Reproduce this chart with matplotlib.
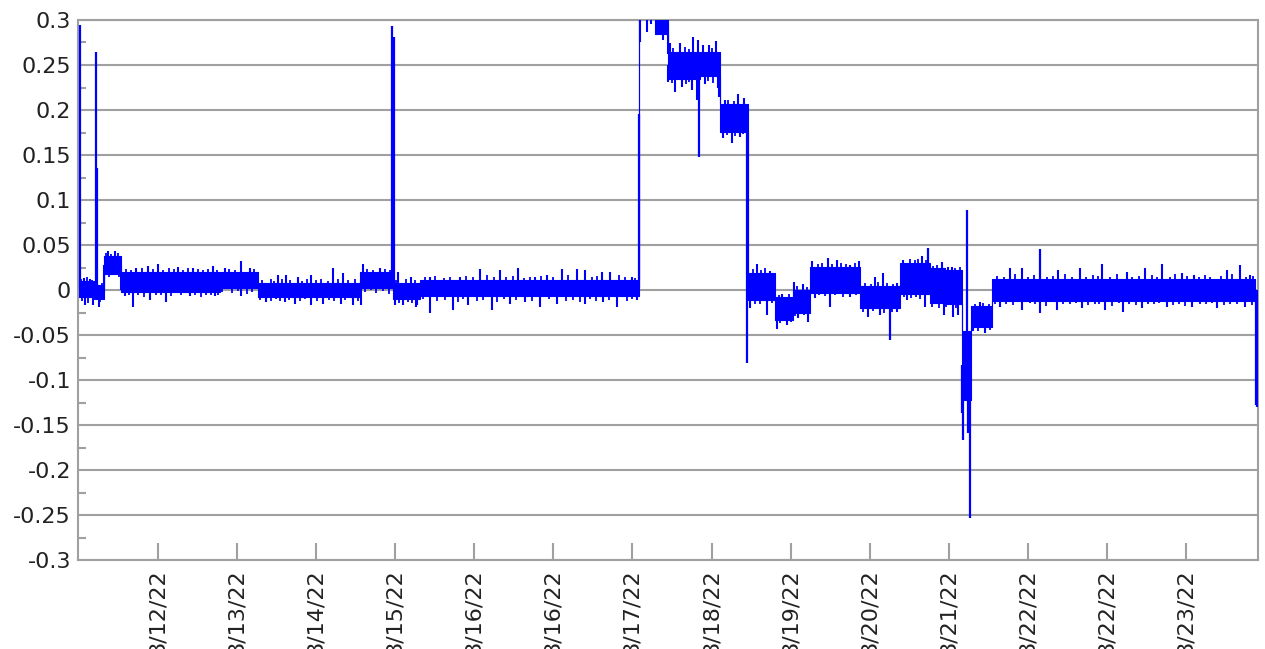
import numpy as np
import matplotlib
matplotlib.use("Agg")
import matplotlib.pyplot as plt
import matplotlib.dates as mdates
from matplotlib.ticker import FixedLocator, FuncFormatter, MultipleLocator
from datetime import datetime

start = datetime(2022, 8, 11, 20, 10)
end_h = 304.4

# dense band: each level starts at seg_h (hours from start) and runs to the next one
seg_h = [0.2, 4.4, 6.7, 11.1, 36.6, 46.4, 72.8, 81.3, 88.2, 144.8, 148.9, 152.2,
         160.5, 165.6, 172.9, 179.8, 184.4, 188.9, 201.8, 212.1, 219.8, 223.7,
         228.1, 230.4, 235.8, 303.7]
seg_lo = [-0.008, -0.010, 0.018, -0.002, 0.002, -0.008, 0.002, -0.010, -0.007, 0.302,
          0.284, 0.235, 0.238, 0.176, -0.011, -0.033, -0.025, -0.003, -0.020, -0.004,
          -0.014, -0.015, -0.122, -0.041, -0.012, -0.012]
seg_hi = [0.010, 0.006, 0.038, 0.020, 0.020, 0.008, 0.020, 0.008, 0.011, 0.320,
          0.310, 0.265, 0.265, 0.207, 0.019, -0.008, 0.000, 0.026, 0.004, 0.030,
          0.024, 0.022, -0.045, -0.018, 0.012, 0.012]

# large excursions
peak_h = [0.6, 4.6, 5.0, 81.0, 81.5, 144.7, 160.3, 172.7, 209.5, 219.3, 228.1,
          228.4, 229.4, 229.7, 230.0, 248.2, 303.9, 304.2]
peak_v = [0.294, 0.265, 0.136, 0.293, 0.281, 0.196, 0.148, -0.081, -0.055, 0.047, -0.137,
          -0.167, 0.089, -0.159, -0.253, 0.046, -0.128, -0.130]

# short noise spikes around the band
fringe_h = [1.5, 3.0, 7.7, 9.5, 15.0, 18.1, 20.6, 25.8, 29.7, 34.8, 37.8, 42.1, 44.3,
            51.6, 53.7, 56.7, 60.2, 65.8, 68.4, 73.5, 77.8, 82.5, 86.0,
            1.7, 3.9, 5.3, 6.8, 11.0, 12.0, 14.2, 18.5, 22.8, 28.8, 35.3, 42.1, 48.6,
            53.3, 55.9, 60.2, 63.2, 67.9, 70.9, 73.1, 81.7, 83.8, 87.3,
            90.8, 98.6, 103.7, 108.9, 113.6, 117.9, 120.9, 124.8, 128.7, 130.8, 135.1,
            137.3, 142.8,
            87.4, 90.8, 96.8, 100.7, 106.7, 111.5, 115.3, 119.2, 123.5, 130.8, 135.5,
            139.0, 144.1,
            144.9, 146.7, 147.7, 149.3, 150.1, 151.0, 151.8, 152.1, 152.7, 155.3, 158.7,
            160.0, 152.3, 154.0, 155.7, 158.3, 159.6, 161.3, 162.8, 164.7, 161.7, 165.2,
            165.4, 166.9, 170.3, 171.8, 166.5, 168.6, 170.8,
            175.1, 178.5, 173.4, 177.7, 180.3, 182.8, 181.5, 184.6, 187.1, 185.8, 188.4,
            189.3, 193.6, 195.7, 199.2, 201.6, 190.1, 194.0, 199.2, 205.6, 207.6, 211.2,
            203.9, 206.9, 211.2, 212.9, 217.7, 213.8, 218.5, 222.8, 225.4, 223.3, 225.8,
            224.5, 227.0, 232.7, 234.0, 231.0,
            240.5, 243.5, 252.9, 258.5, 264.1, 270.6, 275.3, 279.6, 284.7, 287.8, 296.3,
            299.8, 302.4,
            237.9, 243.5, 248.2, 252.5, 258.9, 265.0, 269.7, 274.4, 280.9, 287.3, 293.8,
            301.1]
fringe_v = [0.013, 0.012, 0.043, 0.043, 0.025, 0.027, 0.029, 0.026, 0.025, 0.027, 0.024,
            0.032, 0.025, 0.017, 0.017, 0.015, 0.017, 0.025, 0.019, 0.029, 0.024, 0.020,
            0.014,
            -0.017, -0.017, -0.019, -0.002, 0.000, -0.007, -0.019, -0.011, -0.013, -0.007,
            -0.007, -0.007, -0.013, -0.013, -0.015, -0.017, -0.015, -0.015, -0.017, -0.017,
            -0.017, -0.017, -0.019,
            0.015, 0.015, 0.023, 0.022, 0.025, 0.015, 0.017, 0.023, 0.023, 0.022, 0.020,
            0.020, 0.014,
            -0.017, -0.025, -0.022, -0.017, -0.022, -0.015, -0.013, -0.019, -0.015, -0.015,
            -0.013, -0.019, -0.011,
            0.276, 0.287, 0.296, 0.289, 0.283, 0.278, 0.287, 0.262, 0.274, 0.274, 0.281,
            0.278, 0.231, 0.220, 0.226, 0.222, 0.211, 0.272, 0.272, 0.277, 0.229, 0.224,
            0.215, 0.211, 0.218, 0.213, 0.169, 0.163, 0.170,
            0.0285, 0.021, -0.020, -0.028, -0.043, -0.039, -0.004, 0.0093, 0.0063, -0.0315,
            -0.036, 0.032, 0.036, 0.033, 0.028, 0.032, -0.009, -0.0185, -0.0074, 0.0148,
            0.0185, 0.0074, -0.030, -0.028, -0.024, 0.033, 0.038, -0.011, -0.0185, 0.031,
            0.026, -0.028, -0.030, 0.026, -0.028, -0.013, -0.048, -0.046,
            0.024, 0.025, 0.022, 0.024, 0.029, 0.020, 0.024, 0.029, 0.019, 0.017, 0.022,
            0.028, 0.017,
            -0.0185, -0.022, -0.026, -0.022, -0.020, -0.022, -0.024, -0.020, -0.0185,
            -0.0185, -0.020, -0.0185]

# small ripples just past the band edges
ripple_h = [0.9, 2.3, 3.6, 1.0, 2.6, 4.1, 5.8, 6.3, 7.2, 8.6, 10.3, 8.0, 10.6,
            12.5, 13.8, 16.5, 19.3, 21.9, 23.4, 24.7, 27.0, 28.3, 31.0, 32.2, 33.5, 35.9,
            13.2, 15.6, 17.1, 20.0, 21.4, 24.0, 26.6, 30.3, 31.7, 33.0, 34.2, 36.1,
            39.0, 40.5, 45.4, 37.2, 39.6, 41.2, 43.5, 45.0,
            47.5, 49.7, 50.5, 52.6, 54.8, 57.9, 59.1, 61.5, 62.6, 64.4, 67.0, 69.6, 71.5,
            47.0, 49.9, 51.2, 52.1, 54.5, 57.2, 58.6, 61.7, 64.8, 66.1, 69.0, 72.2,
            74.5, 76.0, 79.2, 80.4, 74.0, 75.5, 77.0, 78.8, 80.1,
            82.0, 84.6, 87.0, 82.9, 85.0, 86.2,
            89.5, 92.0, 94.3, 96.0, 100.0, 102.0, 105.5, 107.3, 110.5, 112.2, 115.0, 116.5,
            119.5, 122.6, 126.5, 132.6, 134.0, 139.5, 141.2, 143.8,
            89.0, 92.6, 94.8, 98.0, 99.3, 102.8, 104.5, 108.2, 110.0, 113.0, 117.0, 121.5,
            125.8, 127.6, 129.5, 132.0, 133.6, 137.0, 141.7, 143.0,
            153.5, 156.5, 157.6, 153.2, 156.8, 157.5, 163.6, 162.5, 163.9,
            167.8, 169.2, 167.5, 169.6, 171.5,
            174.0, 176.3, 177.3, 174.6, 176.0, 179.0, 180.8, 183.3, 181.2, 183.9,
            185.4, 188.0, 184.9, 187.4,
            190.8, 192.0, 194.6, 196.8, 198.0, 200.4, 191.2, 192.8, 195.2, 197.4, 200.8,
            203.0, 204.5, 206.3, 208.8, 210.3, 202.5, 205.0, 208.0, 209.9,
            214.5, 215.8, 216.6, 218.8, 213.0, 215.0, 216.3, 217.2,
            220.6, 221.7, 220.3, 222.0, 226.2, 227.5, 224.0, 226.6,
            231.5, 233.5, 235.0, 232.2, 235.2,
            237.0, 239.0, 241.8, 245.0, 246.5, 250.0, 251.5, 254.6, 256.4, 260.0, 261.8,
            263.0, 266.3, 268.0, 272.0, 273.6, 277.0, 278.4, 281.6, 283.0, 286.0, 289.2,
            290.6, 292.0, 294.8, 297.8, 301.2, 303.2,
            236.6, 239.5, 241.2, 245.5, 247.0, 249.8, 254.0, 255.8, 257.4, 260.6, 262.4,
            263.5, 266.8, 268.5, 271.2, 272.8, 276.0, 277.5, 278.9, 282.6, 284.0, 285.6,
            289.5, 291.0, 292.5, 295.6, 297.2, 299.0, 302.8]
ripple_v = [0.012, 0.014, 0.011, -0.012, -0.014, -0.011, -0.013, 0.008, 0.041, 0.040,
            0.041, 0.015, 0.014,
            0.023, 0.022, 0.024, 0.023, 0.022, 0.024, 0.023, 0.022, 0.024, 0.023, 0.022,
            0.023, 0.022,
            -0.006, -0.005, -0.008, -0.005, -0.006, -0.007, -0.005, -0.006, -0.008, -0.005,
            -0.006, -0.005,
            0.023, 0.022, 0.023, -0.002, -0.003, -0.001, -0.004, -0.002,
            0.011, 0.012, 0.010, 0.012, 0.011, 0.010, 0.012, 0.011, 0.012, 0.010, 0.012,
            0.011, 0.012,
            -0.011, -0.012, -0.010, -0.012, -0.011, -0.012, -0.010, -0.012, -0.011, -0.012,
            -0.011, -0.012,
            0.023, 0.022, 0.023, 0.022, -0.002, 0.000, -0.003, -0.001, -0.004,
            0.011, 0.012, 0.011, -0.014, -0.013, -0.014,
            0.014, 0.016, 0.013, 0.015, 0.016, 0.014, 0.017, 0.015, 0.014, 0.016, 0.013,
            0.015, 0.016, 0.014, 0.017, 0.015, 0.016, 0.017, 0.014, 0.013,
            -0.010, -0.012, -0.011, -0.013, -0.010, -0.012, -0.011, -0.013, -0.010, -0.011,
            -0.012, -0.010, -0.012, -0.011, -0.013, -0.010, -0.012, -0.011, -0.012, -0.010,
            0.269, 0.270, 0.268, 0.230, 0.229, 0.231, 0.269, 0.232, 0.230,
            0.211, 0.210, 0.172, 0.171, 0.173,
            0.023, 0.022, 0.024, -0.015, -0.016, -0.014, -0.005, -0.004, -0.037, -0.036,
            0.004, 0.003, -0.029, -0.028,
            0.029, 0.030, 0.029, 0.030, 0.029, 0.030, -0.006, -0.007, -0.006, -0.008, -0.006,
            0.008, 0.007, 0.009, 0.008, 0.007, -0.024, -0.023, -0.025, -0.024,
            0.034, 0.033, 0.034, 0.033, -0.008, -0.009, -0.008, -0.010,
            0.027, 0.028, -0.019, -0.020, 0.025, 0.026, -0.019, -0.020,
            -0.015, -0.014, -0.015, -0.045, -0.044,
            0.016, 0.014, 0.018, 0.015, 0.017, 0.014, 0.016, 0.018, 0.015, 0.014, 0.017,
            0.016, 0.015, 0.018, 0.014, 0.016, 0.017, 0.015, 0.014, 0.018, 0.016, 0.015,
            0.017, 0.014, 0.016, 0.018, 0.015, 0.016,
            -0.016, -0.015, -0.017, -0.014, -0.016, -0.018, -0.015, -0.016, -0.014, -0.017,
            -0.016, -0.015, -0.018, -0.014, -0.016, -0.017, -0.015, -0.016, -0.014, -0.017,
            -0.016, -0.018, -0.015, -0.016, -0.014, -0.017, -0.016, -0.015, -0.017]

# axis ticks every 20.4 h, first one 20.64 h after the start
tick_h = [20.64 + 20.4 * k for k in range(14)]

plt.rcParams['font.family'] = ['DejaVu Sans']
BLUE = '#0000ff'
GRID = '#a0a0a0'

t0 = mdates.date2num(start)


def to_x(hours):
    return t0 + np.asarray(hours) / 24.0


seg_h = np.array(seg_h)
seg_lo = np.array(seg_lo)
seg_hi = np.array(seg_hi)


def band_mid(hours):
    idx = np.searchsorted(seg_h, hours, side='right') - 1
    idx = np.clip(idx, 0, len(seg_h) - 1)
    return (seg_lo[idx] + seg_hi[idx]) / 2


fig = plt.figure(figsize=(12.65, 6.49), dpi=100)
ax = fig.add_axes([78 / 1265, 1 - 560 / 649, 1180 / 1265, 540 / 649])

ax.fill_between(to_x(seg_h), seg_lo, seg_hi, step='post', color=BLUE, lw=0.8,
                edgecolor=BLUE, zorder=3)

for hs, vs, w in [(peak_h, peak_v, 1.6), (fringe_h, fringe_v, 1.5), (ripple_h, ripple_v, 1.3)]:
    hs = np.array(hs)
    ax.vlines(to_x(hs), band_mid(hs), vs, color=BLUE, lw=w, zorder=3)

ax.set_xlim(t0, to_x(end_h))
ax.set_ylim(-0.3, 0.3)

ax.yaxis.set_major_locator(MultipleLocator(0.05))
ax.yaxis.set_minor_locator(MultipleLocator(0.025))
ax.yaxis.set_major_formatter(FuncFormatter(lambda v, p: f"{round(v, 3):g}"))
ax.grid(axis='y', which='major', color=GRID, lw=1.5, zorder=1)

ax.xaxis.set_major_locator(FixedLocator(to_x(tick_h)))


def date_label(v, p):
    d = mdates.num2date(v)
    return f"{d.month}/{d.day}/{d:%y}"


ax.xaxis.set_major_formatter(FuncFormatter(date_label))

ax.tick_params(axis='y', which='major', length=0, pad=5, labelsize=16, labelcolor='#222222')
ax.tick_params(axis='y', which='minor', direction='in', length=6, width=1.5, color=GRID)
ax.tick_params(axis='x', which='major', direction='in', length=12, width=1.5, color=GRID,
               pad=7, labelsize=16, labelcolor='#222222', labelrotation=90)
for lbl in ax.get_xticklabels():
    lbl.set_va('top')

for s in ax.spines.values():
    s.set_color(GRID)
    s.set_linewidth(1.5)

fig.savefig("out.png", dpi=100)
